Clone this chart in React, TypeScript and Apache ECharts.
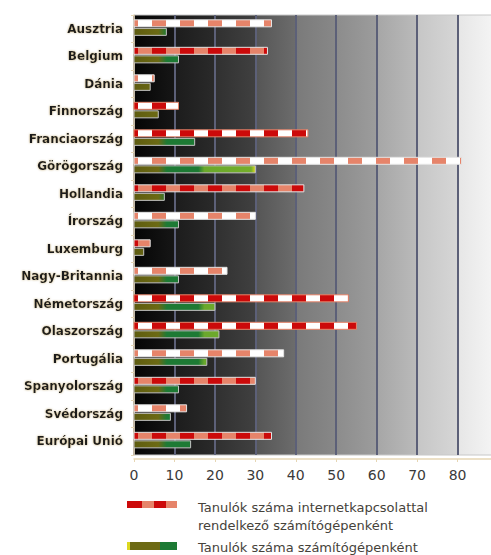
import React, { useEffect, useRef } from "react";
import * as echarts from "echarts";

const categories = [
  "Ausztria", "Belgium", "Dánia", "Finnország", "Franciaország", "Görögország",
  "Hollandia", "Írország", "Luxemburg", "Nagy-Britannia", "Németország",
  "Olaszország", "Portugália", "Spanyolország", "Svédország", "Európai Unió",
];
const internetValues = [34, 33, 5, 11, 43, 81, 42, 30, 4, 23, 53, 55, 37, 30, 13, 34];
const computerValues = [8, 11, 4, 6, 15, 30, 7.5, 11, 2.4, 11, 20, 21, 18, 11, 9, 14];
const dashStyles = ["A", "B", "A", "C", "C", "A", "B", "A", "B", "A", "C", "C", "A", "B", "A", "B"];
const legendNames = [
  "Tanulók száma internetkapcsolattal\nrendelkező számítógépenként",
  "Tanulók száma számítógépenként",
];
const xMin = 0;
const xMax = 90;
const xInterval = 10;

const RED = "#cc0a0a";
const SALMON = "#e6846a";
const WHITE = "#ffffff";
const OLIVE = "#6c6a14";
const DGREEN = "#1d7a34";
const LGREEN = "#6aa82c";
const YELLOW = "#dcd820";

const palettes: Record<string, [string, string, string]> = {
  A: [SALMON, WHITE, "#e4e4e4"],
  B: [RED, SALMON, "#e4e4e4"],
  C: [RED, WHITE, SALMON],
};

export default function App() {
  const ref = useRef<HTMLDivElement>(null);
  useEffect(() => {
    document.body.style.margin = "0";
    const chart = echarts.init(ref.current!, null, { renderer: "svg" });

    const internetData = internetValues.map((v, i) => [v, i]);
    const computerData = computerValues.map((v, i) => [v, i]);

    const bgStops = [
      [0, "#050505"], [0.110, "#161616"], [0.112, "#1c1c1c"],
      [0.221, "#2a2a2a"], [0.223, "#303030"],
      [0.332, "#404040"], [0.334, "#555555"],
      [0.443, "#6c6c6c"], [0.445, "#7a7a7a"],
      [0.554, "#888888"], [0.556, "#8c8c8c"],
      [0.665, "#9c9c9c"], [0.667, "#a6a6a6"],
      [0.776, "#bababa"], [0.778, "#c6c6c6"],
      [0.887, "#d6d6d6"], [0.889, "#e6e6e6"],
      [1, "#f6f6f6"],
    ].map(([offset, color]) => ({ offset: offset as number, color: color as string }));

    const option: any = {
      animation: false,
      grid: {
        left: 134,
        right: 0,
        top: 15,
        bottom: 100,
        show: true,
        backgroundColor: new echarts.graphic.LinearGradient(0, 0, 1, 0, bgStops),
        borderColor: "#c8c8c8",
        borderWidth: 1,
      },
      xAxis: {
        type: "value",
        min: xMin,
        max: xMax,
        interval: xInterval,
        offset: 4,
        axisLine: { show: true, lineStyle: { color: "#e6d6b4", width: 1.5 } },
        axisTick: { show: true, length: 3, lineStyle: { color: "#e6d6b4" } },
        axisLabel: {
          margin: 9,
          fontSize: 14,
          color: "#3a3a3a",
          fontFamily: "DejaVu Sans",
          showMaxLabel: false,
        },
        splitLine: { show: true, lineStyle: { color: "#5c6078", width: 2 } },
      },
      yAxis: {
        type: "category",
        data: categories,
        inverse: true,
        offset: 6,
        axisLine: { show: true, lineStyle: { color: "#e6d6b4", width: 1.5 } },
        axisTick: { show: true, length: 3, lineStyle: { color: "#e6d6b4" } },
        axisLabel: {
          margin: 5,
          fontSize: 12,
          fontWeight: "bold",
          color: "#1a1a1a",
          fontFamily: "DejaVu Sans",
          textShadowColor: "#c9b483",
          textShadowBlur: 2,
        },
        splitLine: { show: false },
      },
      series: [
        {
          type: "custom",
          name: "internet",
          encode: { x: 0, y: 1 },
          data: internetData,
          renderItem: (params: any, api: any) => {
            const v = api.value(0);
            const idx = api.value(1);
            const p0 = api.coord([0, idx]);
            const p1 = api.coord([v, idx]);
            const band = api.size([0, 1])[1];
            const h = band * 0.255;
            const y = p0[1] - band * 0.325;
            const x0 = p0[0];
            const x1 = p1[0];
            const pal = palettes[dashStyles[params.dataIndex]];
            const children: any[] = [];
            let x = x0;
            let i = 0;
            let len = 4;
            while (x < x1 - 0.01) {
              const w = Math.min(len, x1 - x);
              children.push({
                type: "rect",
                shape: { x, y, width: w, height: h },
                style: { fill: pal[i % 2] },
              });
              x += w;
              i++;
              len = 14;
            }
            children.push({
              type: "rect",
              shape: { x: x0, y, width: x1 - x0, height: h },
              style: { fill: "none", stroke: pal[2], lineWidth: 1 },
            });
            return { type: "group", children };
          },
        },
        {
          type: "custom",
          name: "computer",
          encode: { x: 0, y: 1 },
          data: computerData,
          renderItem: (params: any, api: any) => {
            const v = api.value(0);
            const idx = api.value(1);
            const p0 = api.coord([0, idx]);
            const p1 = api.coord([v, idx]);
            const g1 = api.coord([30, idx]);
            const band = api.size([0, 1])[1];
            const h = band * 0.255;
            const y = p0[1] - band * 0.015;
            const grad = new echarts.graphic.LinearGradient(
              p0[0], 0, g1[0], 0,
              [
                { offset: 0, color: "#5e5c10" },
                { offset: 0.2, color: OLIVE },
                { offset: 0.27, color: DGREEN },
                { offset: 0.53, color: DGREEN },
                { offset: 0.58, color: LGREEN },
                { offset: 0.965, color: "#74ae2a" },
                { offset: 1, color: YELLOW },
              ],
              true
            );
            return {
              type: "rect",
              shape: { x: p0[0], y, width: p1[0] - p0[0], height: h },
              style: { fill: grad, stroke: "#c4c4c4", lineWidth: 1 },
            };
          },
        },
      ],
      graphic: [
        { type: "rect", shape: { x: 127, y: 501, width: 15, height: 7 }, style: { fill: RED } },
        { type: "rect", shape: { x: 142, y: 501, width: 12, height: 7 }, style: { fill: SALMON } },
        { type: "rect", shape: { x: 154, y: 501, width: 12, height: 7 }, style: { fill: RED } },
        { type: "rect", shape: { x: 166, y: 501, width: 11, height: 7 }, style: { fill: SALMON } },
        {
          type: "text",
          x: 198,
          y: 498,
          style: {
            text: legendNames[0],
            fontSize: 13,
            lineHeight: 18,
            fill: "#45423a",
            fontFamily: "DejaVu Sans",
          },
        },
        { type: "rect", shape: { x: 127, y: 542, width: 3, height: 8 }, style: { fill: YELLOW } },
        { type: "rect", shape: { x: 130, y: 542, width: 30, height: 8 }, style: { fill: OLIVE } },
        { type: "rect", shape: { x: 160, y: 542, width: 17, height: 8 }, style: { fill: DGREEN } },
        {
          type: "text",
          x: 198,
          y: 538,
          style: {
            text: legendNames[1],
            fontSize: 13,
            lineHeight: 18,
            fill: "#45423a",
            fontFamily: "DejaVu Sans",
          },
        },
      ],
    };
    chart.setOption(option);
    return () => chart.dispose();
  }, []);
  return (
    <div style={{ width: 491, height: 555, overflow: "hidden" }}>
      <div ref={ref} style={{ width: 498, height: 555 }} />
    </div>
  );
}
